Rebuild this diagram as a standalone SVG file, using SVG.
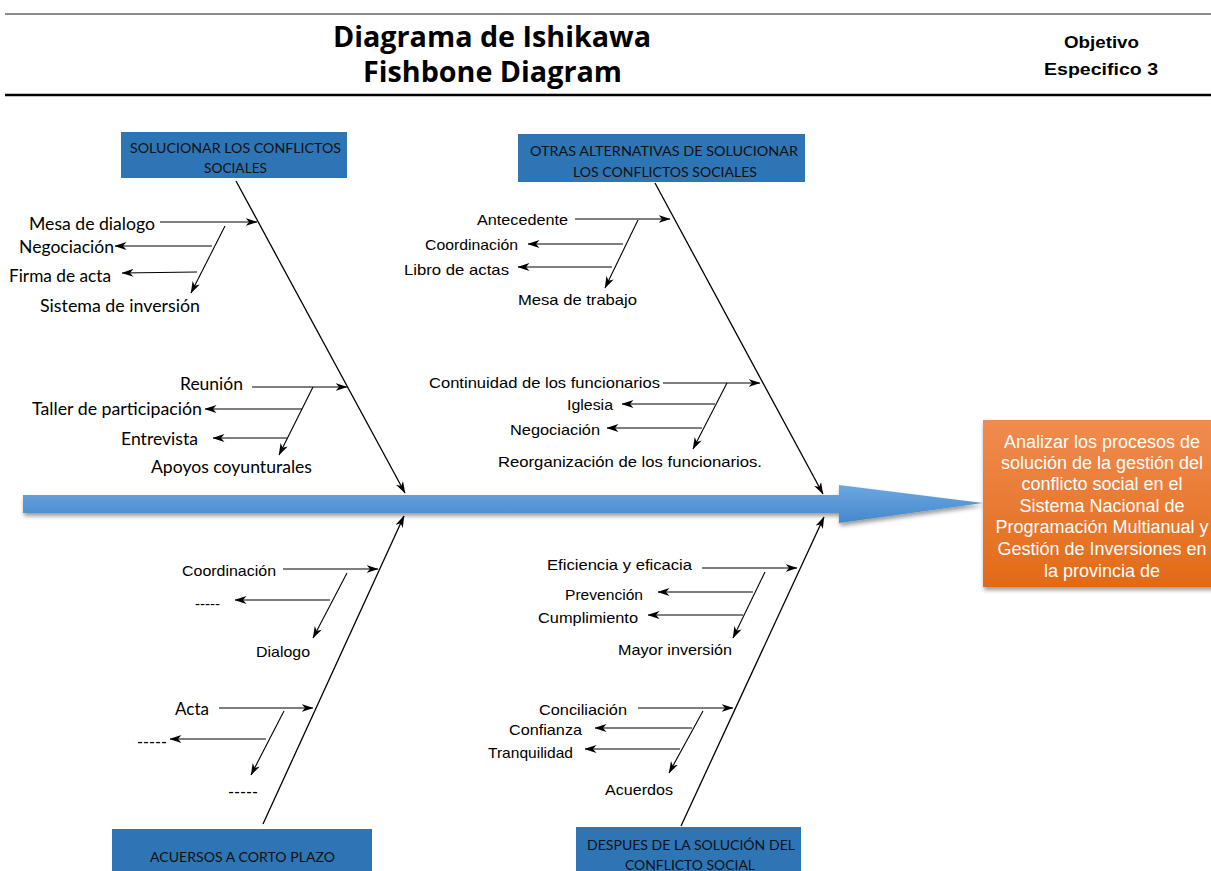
<svg xmlns="http://www.w3.org/2000/svg" width="1211" height="871" viewBox="0 0 1211 871">
<style>
.c{font-family:Lato,"Liberation Sans",sans-serif;font-size:17px;fill:#000}
.a{font-family:"Liberation Sans",Arial,sans-serif;font-size:15px;fill:#000}
.bx{font-family:Lato,"Liberation Sans",sans-serif;font-size:13px;fill:#111}
.bone{stroke:#000;stroke-width:1.3;fill:none;marker-end:url(#ah)}
.sub{stroke:#000;stroke-width:1.1;fill:none;marker-end:url(#ah)}
.box{fill:#2E75B6}
.ttl{font-family:"Open Sans","Liberation Sans",sans-serif;font-weight:700;font-size:28px;fill:#000}
.obj{font-family:"Liberation Sans",Arial,sans-serif;font-weight:700;font-size:17px;fill:#000}
.ot{font-family:"Liberation Sans",Arial,sans-serif;font-size:18px;fill:#fff;text-anchor:middle}
</style>
<defs>
<marker id="ah" viewBox="0 0 12 8" refX="11.5" refY="4" markerWidth="12" markerHeight="8" markerUnits="userSpaceOnUse" orient="auto">
<path d="M0,0 L12,4 L0,8 L3.5,4 Z" fill="#000"/>
</marker>
<linearGradient id="gs" x1="0" y1="0" x2="0" y2="1">
<stop offset="0" stop-color="#6CA8E0"/>
<stop offset="1" stop-color="#4588CC"/>
</linearGradient>
<linearGradient id="go" x1="0" y1="0" x2="0" y2="1">
<stop offset="0" stop-color="#F08C50"/>
<stop offset="1" stop-color="#E26A17"/>
</linearGradient>
<filter id="sh" x="-5%" y="-30%" width="110%" height="180%">
<feDropShadow dx="1" dy="3" stdDeviation="2" flood-color="#000" flood-opacity="0.4"/>
</filter>
</defs>

<g id="header">
<line x1="5" y1="14" x2="1211" y2="14" stroke="#666" stroke-width="1.5"/>
<line x1="5" y1="95" x2="1211" y2="95" stroke="#000" stroke-width="2.5"/>
<text class="ttl" x="333" y="47" textLength="318" lengthAdjust="spacingAndGlyphs">Diagrama de Ishikawa</text>
<text class="ttl" x="363" y="82" textLength="259" lengthAdjust="spacingAndGlyphs">Fishbone Diagram</text>
<text class="obj" x="1064" y="48" textLength="75" lengthAdjust="spacingAndGlyphs">Objetivo</text>
<text class="obj" x="1044" y="75" textLength="114" lengthAdjust="spacingAndGlyphs">Especifico 3</text>
</g>

<g id="spine">
<path d="M23,495 L839,495 L839,485 L983,503 L839,523 L839,513 L23,513 Z" fill="url(#gs)" filter="url(#sh)"/>
</g>

<g id="effect">
<rect x="983" y="420" width="240" height="167" fill="url(#go)" filter="url(#sh)"/>
<text class="ot" x="1102" y="448">Analizar los procesos de</text>
<text class="ot" x="1102" y="469">solución de la gestión del</text>
<text class="ot" x="1102" y="490">conflicto social en el</text>
<text class="ot" x="1102" y="512">Sistema Nacional de</text>
<text class="ot" x="1102" y="533">Programación Multianual y</text>
<text class="ot" x="1102" y="555">Gestión de Inversiones en</text>
<text class="ot" x="1102" y="577">la provincia de</text>
</g>

<g id="cat1">
<rect class="box" x="121" y="132" width="226" height="46"/>
<text class="bx" x="130" y="153" textLength="211" lengthAdjust="spacingAndGlyphs">SOLUCIONAR LOS CONFLICTOS</text>
<text class="bx" x="204" y="173" textLength="63" lengthAdjust="spacingAndGlyphs">SOCIALES</text>
</g>
<g id="cat2">
<rect class="box" x="518" y="134" width="287" height="48"/>
<text class="bx" x="530" y="156" textLength="268" lengthAdjust="spacingAndGlyphs">OTRAS ALTERNATIVAS DE SOLUCIONAR</text>
<text class="bx" x="573" y="177" textLength="184" lengthAdjust="spacingAndGlyphs">LOS CONFLICTOS SOCIALES</text>
</g>
<g id="cat3">
<rect class="box" x="112" y="829" width="260" height="46"/>
<text class="bx" x="150" y="862" textLength="185" lengthAdjust="spacingAndGlyphs">ACUERSOS A CORTO PLAZO</text>
</g>
<g id="cat4">
<rect class="box" x="576" y="827" width="225" height="48"/>
<text class="bx" x="587" y="850" textLength="208" lengthAdjust="spacingAndGlyphs">DESPUES DE LA SOLUCIÓN DEL</text>
<text class="bx" x="625" y="870" textLength="130" lengthAdjust="spacingAndGlyphs">CONFLICTO SOCIAL</text>
</g>

<g id="connectors">
<path class="bone" d="M236,181 L405,493"/>
<path class="bone" d="M655,183 L823,494"/>
<path class="bone" d="M263,824 L404,516"/>
<path class="bone" d="M681,826 L824,517"/>

<path class="sub" d="M160,222 L257,222"/>
<path class="sub" d="M225,226 L191,293"/>
<path class="sub" d="M212,246 L115,246"/>
<path class="sub" d="M197,272 L122,273"/>

<path class="sub" d="M252,387 L347,387"/>
<path class="sub" d="M313,387 L279,455"/>
<path class="sub" d="M302,409 L205,409"/>
<path class="sub" d="M287,438 L213,438"/>

<path class="sub" d="M575,219 L670,219"/>
<path class="sub" d="M638,220 L605,288"/>
<path class="sub" d="M623,244 L528,244"/>
<path class="sub" d="M612,267 L518,267"/>

<path class="sub" d="M663,383 L760,383"/>
<path class="sub" d="M727,383 L693,449"/>
<path class="sub" d="M715,404 L622,404"/>
<path class="sub" d="M702,428 L607,428"/>

<path class="sub" d="M283,569 L378,569"/>
<path class="sub" d="M347,573 L313,638"/>
<path class="sub" d="M330,600 L235,600"/>

<path class="sub" d="M219,708 L313,708"/>
<path class="sub" d="M284,711 L251,775"/>
<path class="sub" d="M266,739 L170,739"/>

<path class="sub" d="M702,568 L797,568"/>
<path class="sub" d="M765,572 L733,638"/>
<path class="sub" d="M753,592 L658,592"/>
<path class="sub" d="M743,615 L648,615"/>

<path class="sub" d="M638,708 L733,708"/>
<path class="sub" d="M703,711 L669,773"/>
<path class="sub" d="M692,728 L595,728"/>
<path class="sub" d="M680,749 L585,749"/>
</g>

<g id="labels1">
<text class="c" x="29" y="230" textLength="126" lengthAdjust="spacingAndGlyphs">Mesa de dialogo</text>
<text class="c" x="19" y="253" textLength="95" lengthAdjust="spacingAndGlyphs">Negociación</text>
<text class="c" x="9" y="282" textLength="102" lengthAdjust="spacingAndGlyphs">Firma de acta</text>
<text class="c" x="40" y="312" textLength="160" lengthAdjust="spacingAndGlyphs">Sistema de inversión</text>
</g>
<g id="labels2">
<text class="c" x="180" y="390" textLength="63" lengthAdjust="spacingAndGlyphs">Reunión</text>
<text class="c" x="32" y="415" textLength="170" lengthAdjust="spacingAndGlyphs">Taller de participación</text>
<text class="c" x="121" y="445" textLength="77" lengthAdjust="spacingAndGlyphs">Entrevista</text>
<text class="c" x="151" y="473" textLength="161" lengthAdjust="spacingAndGlyphs">Apoyos coyunturales</text>
</g>
<g id="labels3">
<text class="a" x="477" y="225" textLength="91" lengthAdjust="spacingAndGlyphs">Antecedente</text>
<text class="a" x="425" y="250" textLength="93" lengthAdjust="spacingAndGlyphs">Coordinación</text>
<text class="a" x="404" y="275" textLength="105" lengthAdjust="spacingAndGlyphs">Libro de actas</text>
<text class="a" x="518" y="305" textLength="119" lengthAdjust="spacingAndGlyphs">Mesa de trabajo</text>
</g>
<g id="labels4">
<text class="a" x="429" y="388" textLength="231" lengthAdjust="spacingAndGlyphs">Continuidad de los funcionarios</text>
<text class="a" x="567" y="410" textLength="46" lengthAdjust="spacingAndGlyphs">Iglesia</text>
<text class="a" x="510" y="435" textLength="90" lengthAdjust="spacingAndGlyphs">Negociación</text>
<text class="a" x="498" y="467" textLength="264" lengthAdjust="spacingAndGlyphs">Reorganización de los funcionarios.</text>
</g>
<g id="labels5">
<text class="a" x="182" y="576" textLength="94" lengthAdjust="spacingAndGlyphs">Coordinación</text>
<text class="a" x="195" y="609" textLength="25" lengthAdjust="spacingAndGlyphs">-----</text>
<text class="a" x="256" y="657" textLength="54" lengthAdjust="spacingAndGlyphs">Dialogo</text>
</g>
<g id="labels6">
<text class="c" x="175" y="715" textLength="34" lengthAdjust="spacingAndGlyphs">Acta</text>
<text class="c" x="137" y="748" textLength="30" lengthAdjust="spacingAndGlyphs">-----</text>
<text class="c" x="228" y="798" textLength="30" lengthAdjust="spacingAndGlyphs">-----</text>
</g>
<g id="labels7">
<text class="a" x="547" y="570" textLength="145" lengthAdjust="spacingAndGlyphs">Eficiencia y eficacia</text>
<text class="a" x="565" y="600" textLength="78" lengthAdjust="spacingAndGlyphs">Prevención</text>
<text class="a" x="538" y="623" textLength="100" lengthAdjust="spacingAndGlyphs">Cumplimiento</text>
<text class="a" x="618" y="655" textLength="114" lengthAdjust="spacingAndGlyphs">Mayor inversión</text>
</g>
<g id="labels8">
<text class="a" x="539" y="715" textLength="88" lengthAdjust="spacingAndGlyphs">Conciliación</text>
<text class="a" x="509" y="735" textLength="73" lengthAdjust="spacingAndGlyphs">Confianza</text>
<text class="a" x="488" y="758" textLength="85" lengthAdjust="spacingAndGlyphs">Tranquilidad</text>
<text class="a" x="605" y="795" textLength="68" lengthAdjust="spacingAndGlyphs">Acuerdos</text>
</g>
</svg>
